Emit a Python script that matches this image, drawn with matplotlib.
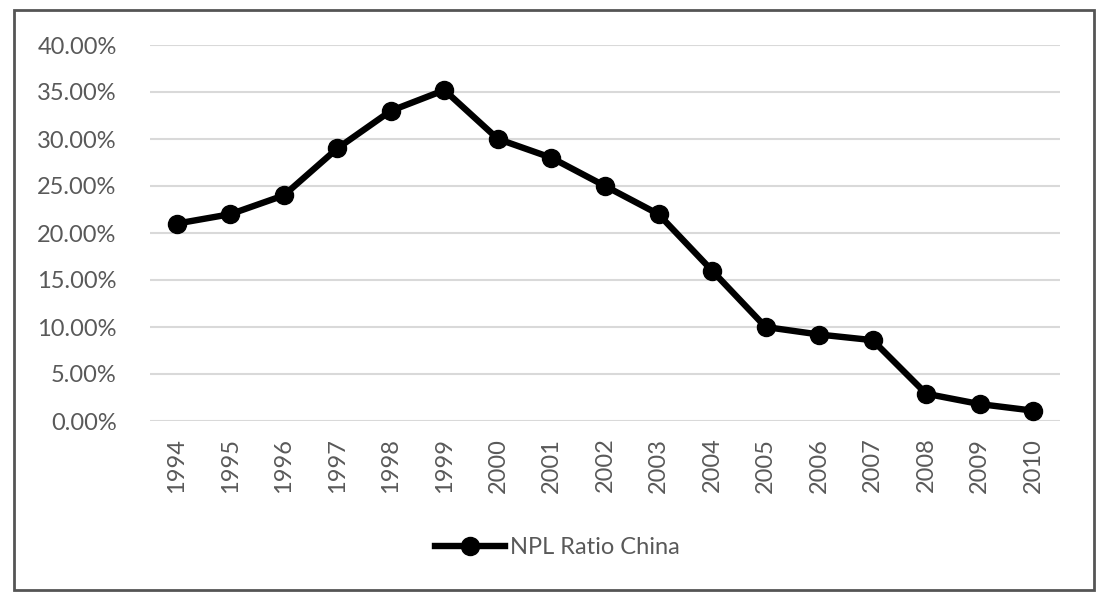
import matplotlib
matplotlib.use("Agg")
import matplotlib.pyplot as plt
from matplotlib.patches import Rectangle
from matplotlib.ticker import FuncFormatter

years = [str(y) for y in range(1994, 2011)]
npl_ratio = [21.0, 22.0, 24.0, 29.0, 33.0, 35.2, 30.0, 28.0, 25.0, 22.0,
             16.0, 10.0, 9.2, 8.6, 2.9, 1.8, 1.1]
y_ticks = [0, 5, 10, 15, 20, 25, 30, 35, 40]

plt.rcParams["font.family"] = ["Lato", "DejaVu Sans"]

fig = plt.figure(figsize=(10.99, 5.92), dpi=100)
ax = fig.add_axes([150 / 1099, 1 - 421 / 592, 910 / 1099, 376 / 592])

x = list(range(len(years)))
ax.plot(x, npl_ratio, color="black", lw=4.6, marker="o", ms=13,
        label="NPL Ratio China", zorder=3)

ax.set_xlim(-0.5, len(years) - 0.5)
ax.set_ylim(0, 40)
ax.set_yticks(y_ticks)
ax.yaxis.set_major_formatter(FuncFormatter(lambda v, _: f"{v:.2f}%"))
ax.set_xticks(x)
ax.set_xticklabels(years, rotation=90)
ax.grid(axis="y", color="#d9d9d9", lw=1.5)
ax.set_axisbelow(True)
for s in ax.spines.values():
    s.set_visible(False)
ax.tick_params(length=0, labelsize=17, colors="#595959", pad=12)
ax.tick_params(axis="y", pad=24)

leg = fig.legend(loc="center", bbox_to_anchor=(0.507, 1 - 548 / 592),
                 frameon=False, fontsize=17, handlelength=3.0,
                 handletextpad=0.2)
for t in leg.get_texts():
    t.set_color("#595959")

# outer chart border
fig.patches.append(Rectangle((14 / 1099, 2 / 592), 1080 / 1099, 580 / 592,
                             transform=fig.transFigure, fill=False,
                             edgecolor="#555555", lw=2))

fig.savefig("out.png", dpi=100)
